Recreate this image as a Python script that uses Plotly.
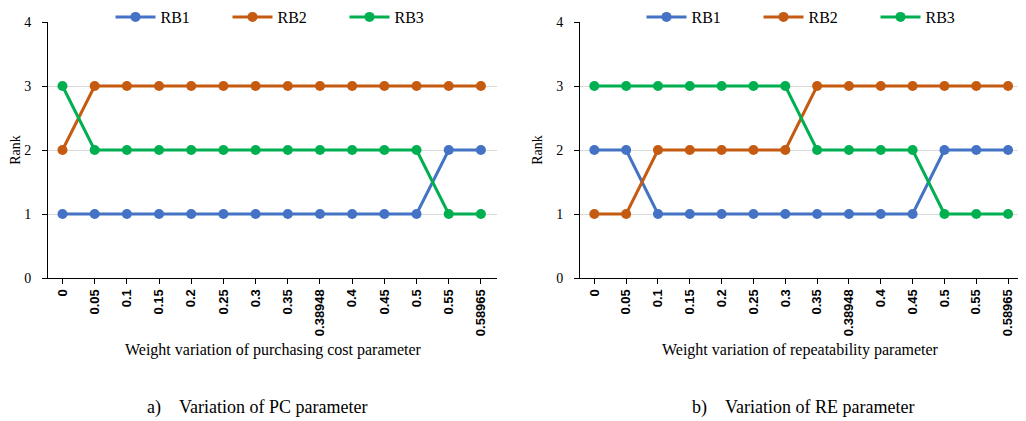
import plotly.graph_objects as go

categories = ["0", "0.05", "0.1", "0.15", "0.2", "0.25", "0.3", "0.35",
              "0.38948", "0.4", "0.45", "0.5", "0.55", "0.58965"]

pc_rb1 = [1, 1, 1, 1, 1, 1, 1, 1, 1, 1, 1, 1, 2, 2]
pc_rb2 = [2, 3, 3, 3, 3, 3, 3, 3, 3, 3, 3, 3, 3, 3]
pc_rb3 = [3, 2, 2, 2, 2, 2, 2, 2, 2, 2, 2, 2, 1, 1]

re_rb1 = [2, 2, 1, 1, 1, 1, 1, 1, 1, 1, 1, 2, 2, 2]
re_rb2 = [1, 1, 2, 2, 2, 2, 2, 3, 3, 3, 3, 3, 3, 3]
re_rb3 = [3, 3, 3, 3, 3, 3, 3, 2, 2, 2, 2, 1, 1, 1]

series_names = ["RB1", "RB2", "RB3"]
colors = ["#4472C4", "#C55A11", "#00B050"]

OFF = 8  # page body margin
W, H = 1026 - OFF, 421 - OFF


def px(xs):
    return (xs - OFF) / W


def py(ys):
    return 1 - (ys - OFF) / H


fig = go.Figure()

for i, (name, ys) in enumerate(zip(series_names, [pc_rb1, pc_rb2, pc_rb3])):
    fig.add_trace(go.Scatter(x=categories, y=ys, name=name, mode="lines+markers",
                             line=dict(color=colors[i], width=3),
                             marker=dict(color=colors[i], size=10),
                             xaxis="x", yaxis="y", legend="legend"))
for i, (name, ys) in enumerate(zip(series_names, [re_rb1, re_rb2, re_rb3])):
    fig.add_trace(go.Scatter(x=categories, y=ys, name=name, mode="lines+markers",
                             line=dict(color=colors[i], width=3),
                             marker=dict(color=colors[i], size=10),
                             xaxis="x2", yaxis="y2", legend="legend2"))

serif = "Liberation Serif"
tickfont_x = dict(family="Liberation Sans Narrow, Liberation Sans", size=13, color="black", weight="bold")


def xaxis(domain, anchor):
    return dict(domain=domain, anchor=anchor, type="category", range=[-0.45, 13.5],
                showline=True, linecolor="black", linewidth=1, ticks="outside",
                ticklen=5, tickcolor="black", tickangle=-90, tickfont=tickfont_x,
                showgrid=False, zeroline=False)


def yaxis(anchor, title):
    return dict(domain=[py(278), py(22)], anchor=anchor, range=[0, 4],
                dtick=1, showline=True, linecolor="black", linewidth=1,
                ticks="outside", ticklen=5, tickcolor="black", ticklabelstandoff=8,
                gridcolor="#D9D9D9", gridwidth=1, zeroline=False,
                tickfont=dict(family=serif, size=14, color="black"),
                title=dict(text=title, font=dict(family=serif, size=14, color="black"),
                           standoff=10))


legend_common = dict(orientation="h", xanchor="center", y=py(0), yanchor="top",
                     font=dict(family=serif, size=16, color="black"),
                     entrywidth=62, entrywidthmode="pixels", itemwidth=40,
                     bgcolor="rgba(0,0,0,0)")

fig.update_layout(
    width=W, height=H, margin=dict(l=0, r=0, t=0, b=0, autoexpand=False),
    paper_bgcolor="white", plot_bgcolor="white",
    xaxis=xaxis([px(48), px(497)], "y"),
    yaxis=yaxis("x", "Rank"),
    xaxis2=xaxis([px(580), px(1024)], "y2"),
    yaxis2=yaxis("x2", "Rank"),
    legend=dict(x=px(286), **legend_common),
    legend2=dict(x=px(817), **legend_common),
    annotations=[
        dict(text="Weight variation of purchasing cost parameter", x=px(273), y=py(350),
             xref="paper", yref="paper", showarrow=False, xanchor="center", yanchor="middle",
             font=dict(family=serif, size=16, color="black")),
        dict(text="Weight variation of repeatability parameter", x=px(800), y=py(350),
             xref="paper", yref="paper", showarrow=False, xanchor="center", yanchor="middle",
             font=dict(family=serif, size=16, color="black")),
        dict(text="a)&nbsp;&nbsp;&nbsp;&nbsp;Variation of PC parameter", x=px(257), y=py(407),
             xref="paper", yref="paper", showarrow=False, xanchor="center", yanchor="middle",
             font=dict(family=serif, size=18, color="black")),
        dict(text="b)&nbsp;&nbsp;&nbsp;&nbsp;Variation of RE parameter", x=px(803), y=py(407),
             xref="paper", yref="paper", showarrow=False, xanchor="center", yanchor="middle",
             font=dict(family=serif, size=18, color="black")),
    ],
)

fig.write_html("out.html")
